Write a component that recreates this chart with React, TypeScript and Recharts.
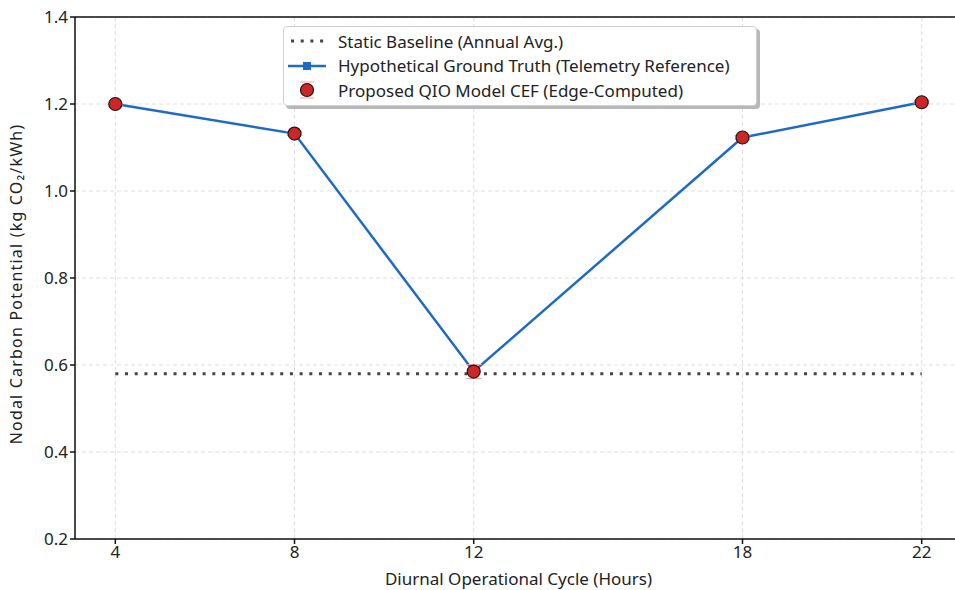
import {
  ComposedChart,
  Line,
  XAxis,
  YAxis,
  CartesianGrid,
  ErrorBar,
  Legend,
  ReferenceLine,
  Label,
} from "recharts";

const hours = [4, 8, 12, 18, 22];
const baseline = [0.58, 0.58, 0.58, 0.58, 0.58];
const groundTruth = [1.2, 1.132, 0.585, 1.123, 1.204];
const qioModel = [1.2, 1.132, 0.585, 1.123, 1.204];
const qioError = [0.002, 0.004, 0.016, 0.004, 0.003];
const yTicks = [0.2, 0.4, 0.6, 0.8, 1.0, 1.2, 1.4];

const data = hours.map((h, i) => ({
  hour: h,
  baseline: baseline[i],
  truth: groundTruth[i],
  qio: qioModel[i],
  err: qioError[i],
}));

const FONT = "'Noto Sans', 'Open Sans', sans-serif";
const BLUE = "#1f6bc4";
const RED = "#cc2626";
const DOT_GREY = "#444444";

function LegendBox() {
  const row = { display: "flex", alignItems: "center", height: 24.5, whiteSpace: "nowrap" } as const;
  const icon = { width: 38, marginRight: 12, display: "flex", justifyContent: "center" } as const;
  return (
    <div
      style={{
        boxSizing: "border-box",
        background: "#fff",
        border: "1px solid #cfcfcf",
        borderRadius: 4,
        boxShadow: "3px 3px 0 #b8b8b8",
        padding: "2px 8px 4px 4px",
        fontFamily: FONT,
        fontSize: 17,
        color: "#222",
        width: 474,
        height: 80,
      }}
    >
      <div style={row}>
        <div style={icon}>
          <svg width={38} height={10}>
            <line x1={3} x2={38} y1={5} y2={5} stroke={DOT_GREY} strokeWidth={3} strokeDasharray="3 6.7" />
          </svg>
        </div>
        Static Baseline (Annual Avg.)
      </div>
      <div style={row}>
        <div style={icon}>
          <svg width={38} height={12}>
            <line x1={0} x2={38} y1={6} y2={6} stroke={BLUE} strokeWidth={2.5} />
            <rect x={15} y={2} width={8} height={8} fill={BLUE} />
          </svg>
        </div>
        Hypothetical Ground Truth (Telemetry Reference)
      </div>
      <div style={row}>
        <div style={icon}>
          <svg width={38} height={20}>
            <line x1={12} x2={26} y1={2} y2={2} stroke="#f4a0a0" strokeWidth={1} />
            <line x1={12} x2={26} y1={18} y2={18} stroke="#f4a0a0" strokeWidth={1} />
            <circle cx={19} cy={10} r={6.5} fill={RED} stroke="#1a1a1a" strokeWidth={1.2} />
          </svg>
        </div>
        Proposed QIO Model CEF (Edge-Computed)
      </div>
    </div>
  );
}

export default function App() {
  return (
    <div
      style={{
        position: "absolute",
        left: 0,
        top: 0,
        width: 955,
        height: 590,
        overflow: "hidden",
        background: "#fff",
      }}
    >
      <ComposedChart
        width={975}
        height={590}
        data={data}
        margin={{ top: 17, right: 13, left: 0, bottom: 0 }}
      >
        <CartesianGrid stroke="#dedede" strokeDasharray="4 3" />
        <XAxis
          dataKey="hour"
          type="number"
          domain={[3.1, 22.9]}
          ticks={hours}
          allowDataOverflow
          height={51}
          stroke="#111"
          strokeWidth={1.5}
          tickSize={5}
          tick={{ fill: "#222", fontSize: 17, fontFamily: FONT }}
        >
          <Label
            value="Diurnal Operational Cycle (Hours)"
            position="insideBottom"
            offset={5}
            style={{ fontSize: 17, fontFamily: FONT, fill: "#222" }}
          />
        </XAxis>
        <YAxis
          type="number"
          domain={[0.2, 1.4]}
          ticks={yTicks}
          allowDataOverflow
          width={75}
          stroke="#111"
          strokeWidth={1.5}
          tickSize={5}
          tickFormatter={(v: number) => v.toFixed(1)}
          tick={{ fill: "#222", fontSize: 17, fontFamily: FONT }}
        >
          <Label
            value="Nodal Carbon Potential (kg CO₂/kWh)"
            angle={-90}
            position="insideLeft"
            offset={0}
            dx={16}
            dy={6}
            textAnchor="middle"
            style={{ fontSize: 16, fontFamily: FONT, fill: "#222", letterSpacing: 1.2, textAnchor: "middle" }}
          />
        </YAxis>
        <ReferenceLine y={1.4} stroke="#111" strokeWidth={1.5} />
        <ReferenceLine x={22.9} stroke="#111" strokeWidth={1.5} />
        <Legend
          layout="horizontal"
          verticalAlign="middle"
          align="center"
          content={() => <LegendBox />}
          wrapperStyle={{ left: 283, top: 26, width: 474, height: 80 }}
        />
        <Line
          dataKey="baseline"
          stroke={DOT_GREY}
          strokeWidth={3}
          strokeDasharray="3 6.7"
          dot={false}
          activeDot={false}
          isAnimationActive={false}
        />
        <Line
          dataKey="truth"
          stroke={BLUE}
          strokeWidth={2.5}
          dot={false}
          activeDot={false}
          isAnimationActive={false}
        />
        <Line
          dataKey="qio"
          stroke="none"
          dot={{ r: 6.5, fill: RED, stroke: "#1a1a1a", strokeWidth: 1.2 }}
          activeDot={false}
          isAnimationActive={false}
        >
          <ErrorBar dataKey="err" direction="y" width={8} stroke="#f4a0a0" strokeWidth={1} />
        </Line>
      </ComposedChart>
    </div>
  );
}
